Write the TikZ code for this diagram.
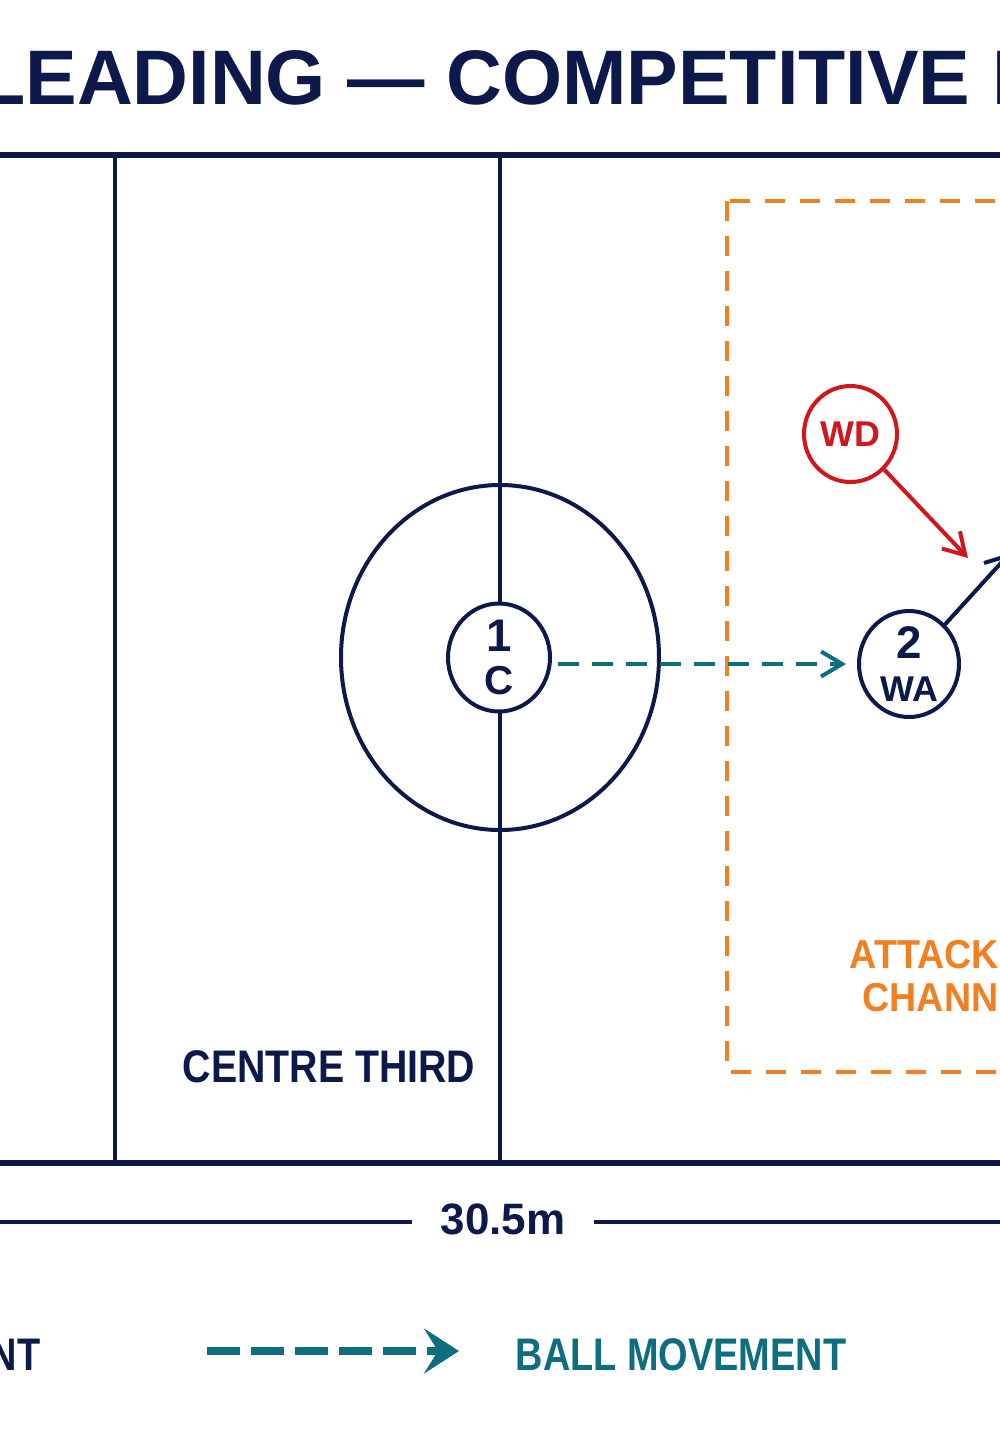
\documentclass[tikz,border=0pt]{standalone}
\usepackage{fontspec}
\setmainfont{Liberation Sans}
\newfontfamily\narrowfont[FakeStretch=0.86]{Liberation Sans}
\newfontfamily\zonefont[FakeStretch=0.93]{Liberation Sans}
\newfontfamily\legendfont[FakeStretch=0.83]{Liberation Sans}
\usetikzlibrary{arrows.meta,shapes.geometric}

\newlength{\du}
\setlength{\du}{1mm}

\definecolor{courtnavy}{rgb}{0.050000, 0.100000, 0.290000}
\definecolor{balltint}{rgb}{0.055000, 0.430000, 0.500000}
\definecolor{defred}{rgb}{0.820000, 0.090000, 0.110000}
\definecolor{channelorange}{rgb}{0.950000, 0.500000, 0.130000}

\tikzset{
  courtline/.style={draw=courtnavy, line width=0.4\du},
  borderline/.style={draw=courtnavy, line width=0.55\du},
  player/.style={ellipse, draw=courtnavy, line width=0.4\du, fill=white,
    inner sep=0pt, align=center, text=courtnavy, font=\bfseries},
  defender/.style={player, draw=defred, text=defred},
  ballpass/.style={draw=balltint, line width=0.4\du,
    dash pattern=on 2.1\du off 1.3\du,
    -{Straight Barb[length=2.1mm, width=2.5mm]}},
  leadpath/.style={draw=courtnavy, line width=0.4\du,
    -{Straight Barb[length=2.1mm, width=2.5mm]}},
  defpath/.style={draw=defred, line width=0.4\du,
    -{Straight Barb[length=2.1mm, width=2.5mm]}},
  channelzone/.style={draw=channelorange, line width=0.4\du,
    dash pattern=on 2.0\du off 1.5\du},
  txt/.style={inner sep=0pt, text=courtnavy, font=\bfseries}
}

\begin{document}
\begin{tikzpicture}
\pgftransformyscale{-1.000000}
\useasboundingbox (0\du,0\du) rectangle (100\du,144\du);
\fill[white] (0\du,0\du) rectangle (100\du,144\du);
\clip (0\du,0\du) rectangle (100\du,144\du);

% title
\node[txt, anchor=base west, font=\bfseries\fontsize{22}{24}\selectfont]
  (title) at (-2.250000\du,10.450000\du) {LEADING — COMPETITIVE L};

% court
\draw[courtline] (11.500000\du,15.500000\du)--(11.500000\du,116.300000\du);
\draw[courtline] (50.000000\du,15.500000\du)--(50.000000\du,116.300000\du);
\draw[borderline] (-1.000000\du,15.500000\du)--(101.000000\du,15.500000\du);
\draw[borderline] (-1.000000\du,116.300000\du)--(101.000000\du,116.300000\du);
\node[ellipse, courtline, inner sep=0pt, minimum width=31.800000\du,
  minimum height=34.500000\du] (ring) at (50.000000\du,65.750000\du) {};
\node[txt, anchor=base west, font=\narrowfont\bfseries\fontsize{13}{14}\selectfont]
  (third) at (18.200000\du,108.200000\du) {CENTRE THIRD};

% attack channel
\draw[channelzone] (72.700000\du,20.100000\du) rectangle (104.000000\du,107.200000\du);
\node[txt, anchor=base west, text=channelorange,
  font=\zonefont\bfseries\fontsize{11.5}{12}\selectfont]
  (chan1) at (84.900000\du,96.800000\du) {ATTACK};
\node[txt, anchor=base west, text=channelorange,
  font=\zonefont\bfseries\fontsize{11.5}{12}\selectfont]
  (chan2) at (86.200000\du,101.100000\du) {CHANNEL};

% players
\node[player, minimum width=10.200000\du, minimum height=10.800000\du]
  (c) at (49.900000\du,65.750000\du)
  {\fontsize{13}{11.8}\selectfont 1\\\fontsize{11.5}{11.8}\selectfont C};
\node[player, minimum width=10.000000\du, minimum height=10.600000\du]
  (wa) at (90.900000\du,66.400000\du)
  {\fontsize{13}{11.8}\selectfont 2\\\fontsize{10.2}{11.8}\selectfont WA};
\node[defender, minimum width=9.300000\du, minimum height=9.600000\du]
  (wd) at (85.050000\du,43.400000\du) {\fontsize{10.2}{11}\selectfont WD};

\coordinate (wdto) at (96.800000\du,55.800000\du);
\coordinate (wato) at (101.000000\du,55.300000\du);
\draw[ballpass, shorten <=0.6\du, shorten >=1.1\du] (c.east |- wa.west) -- (wa.west);
\draw[defpath] (wd) -- (wdto);
\draw[leadpath] (wa) -- (wato);

% length of court
\node[txt, font=\bfseries\fontsize{12.5}{13}\selectfont]
  (dim) at (50.300000\du,121.900000\du) {30.5m};
\coordinate (dimL) at (-1.000000\du,122.200000\du);
\coordinate (dimR) at (101.000000\du,122.200000\du);
\draw[courtline] (dimL) -- ([xshift=-2.800000\du]dimL -| dim.west);
\draw[courtline] ([xshift=2.800000\du]dimR -| dim.east) -- (dimR);

% key
\node[txt, anchor=base east, font=\legendfont\bfseries\fontsize{13}{14}\selectfont]
  (keyrun) at (4.100000\du,137.000000\du) {MOVEMENT};
\coordinate (keyA) at (20.700000\du,135.100000\du);
\coordinate (keyB) at (45.900000\du,135.100000\du);
\draw[draw=balltint, line width=0.8\du, dash pattern=on 3.3\du off 1.1\du,
  -{Stealth[length=3.5mm, width=4.5mm, inset=1.4mm]}] (keyA) -- (keyB);
\node[txt, anchor=base west, text=balltint,
  font=\legendfont\bfseries\fontsize{13}{14}\selectfont]
  (keyball) at (51.500000\du,137.000000\du) {BALL MOVEMENT};
\end{tikzpicture}
\end{document}
